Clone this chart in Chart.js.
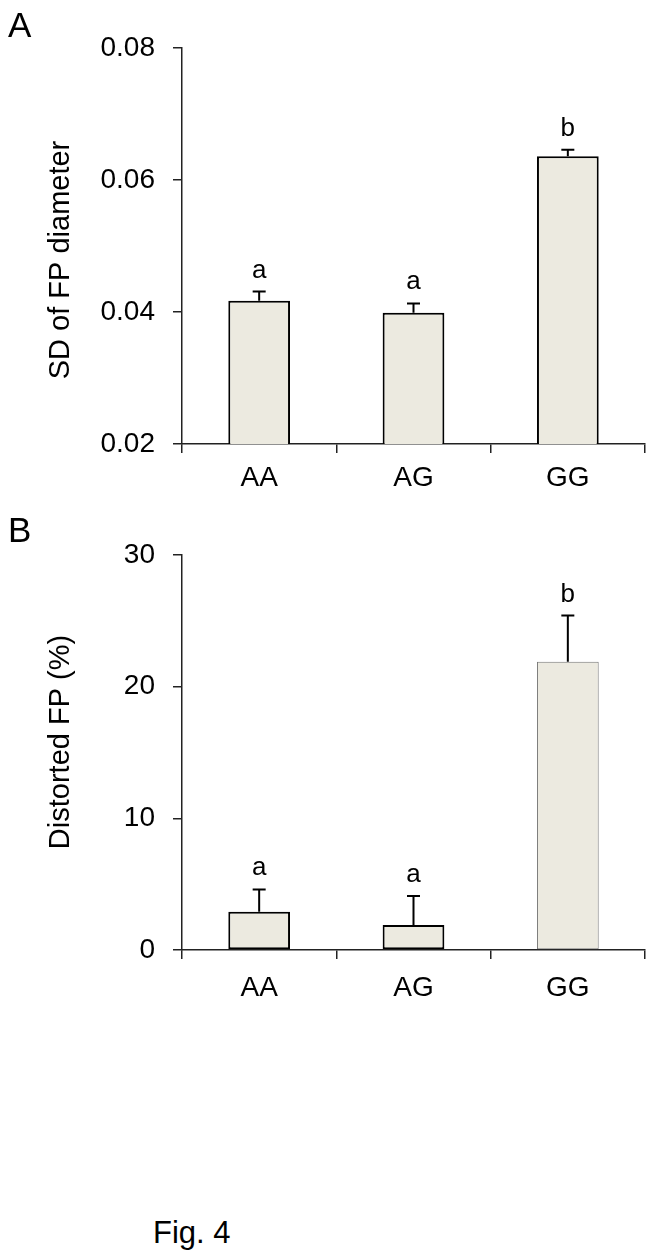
<!DOCTYPE html>
<html>
<head>
<meta charset="utf-8">
<script src="https://cdn.jsdelivr.net/npm/chart.js@4"></script>
<style>
  body { margin: 0; background: #fff; }
  #page { position: relative; width: 653px; height: 1257px; font-family: 'Liberation Sans', Arial, sans-serif; color: #000; }
  canvas { position: absolute; left: 0; }
  .tag { position: absolute; line-height: 1; }
</style>
</head>
<body>
<div id="page">
  <canvas id="chartA" style="top:0" width="653" height="500"></canvas>
  <canvas id="chartB" style="top:500px" width="653" height="520"></canvas>
  <div class="tag" style="left:8px;top:7px;font-size:35px">A</div>
  <div class="tag" style="left:8px;top:512px;font-size:35px">B</div>
  <div class="tag" style="left:153px;top:1217px;font-size:31px">Fig. 4</div>
</div>
<script>
// genotype groups
const groups = ['AA', 'AG', 'GG'];

// panel A: SD of FP diameter
const sdMean    = [0.0417, 0.0399, 0.0636];
const sdErr     = [0.0014, 0.0014, 0.0010];
const sdLetters = ['a', 'a', 'b'];
const sdTicks   = [0.02, 0.04, 0.06, 0.08];

// panel B: distorted FP (%)
const fpMean    = [2.9, 1.9, 21.9];
const fpErr     = [1.7, 2.2, 3.5];
const fpLetters = ['a', 'a', 'b'];
const fpTicks   = [0, 10, 20, 30];

const FONT = '"Liberation Sans", Arial, sans-serif';
const AXIS = '#222';
const FILL = '#ECEAE0';

// error bar (up only) + significance letter above it
const errorBars = {
  id: 'errorBars',
  afterDatasetsDraw(chart, args, opts) {
    const { ctx } = chart;
    const y = chart.scales.y;
    const meta = chart.getDatasetMeta(0);
    ctx.save();
    ctx.strokeStyle = '#000';
    ctx.fillStyle = '#000';
    ctx.lineWidth = 2;
    ctx.font = '26px ' + FONT;
    ctx.textAlign = 'center';
    ctx.textBaseline = 'alphabetic';
    meta.data.forEach((bar, i) => {
      const top = y.getPixelForValue(opts.mean[i] + opts.err[i]);
      ctx.beginPath();
      ctx.moveTo(bar.x, bar.y);
      ctx.lineTo(bar.x, top);
      ctx.moveTo(bar.x - 6.5, top);
      ctx.lineTo(bar.x + 6.5, top);
      ctx.stroke();
      ctx.fillText(opts.letters[i], bar.x, top - 14);
    });
    ctx.restore();
  }
};

// rotated y title, placed by hand like the original figure
const yTitle = {
  id: 'yTitle',
  afterDraw(chart, args, opts) {
    const { ctx } = chart;
    ctx.save();
    ctx.translate(opts.x, opts.y);
    ctx.rotate(-Math.PI / 2);
    ctx.font = '29px ' + FONT;
    ctx.fillStyle = '#000';
    ctx.textAlign = 'center';
    ctx.textBaseline = 'alphabetic';
    ctx.fillText(opts.text, 0, 0);
    ctx.restore();
  }
};

function makeChart(id, cfg) {
  return new Chart(document.getElementById(id), {
    type: 'bar',
    data: {
      labels: groups,
      datasets: [{
        data: cfg.mean,
        backgroundColor: FILL,
        borderColor: cfg.borderColor,
        borderWidth: cfg.borderWidth,
        borderSkipped: false,
        categoryPercentage: 1,
        barPercentage: 0.4
      }]
    },
    options: {
      responsive: false,
      animation: false,
      events: [],
      layout: { padding: { left: 0, right: 8, top: cfg.top, bottom: 0 } },
      plugins: {
        legend: { display: false },
        tooltip: { enabled: false },
        errorBars: { mean: cfg.mean, err: cfg.err, letters: cfg.letters },
        yTitle: { text: cfg.title, x: 69, y: cfg.titleY }
      },
      scales: {
        x: {
          grid: { drawOnChartArea: false, tickLength: 9, color: AXIS, lineWidth: 1.5 },
          border: { color: AXIS, width: 1.5 },
          ticks: { color: '#000', font: { family: FONT, size: 28 }, padding: cfg.xPad },
          afterFit: s => { s.height = cfg.xHeight; }
        },
        y: {
          min: cfg.ticks[0],
          max: cfg.ticks[cfg.ticks.length - 1],
          afterBuildTicks: s => { s.ticks = cfg.ticks.map(v => ({ value: v })); },
          grid: { drawOnChartArea: false, tickLength: 9, color: AXIS, lineWidth: 1.5 },
          border: { color: AXIS, width: 1.5 },
          ticks: { color: '#000', font: { family: FONT, size: 28 }, padding: 18, callback: cfg.fmt },
          afterFit: s => { s.width = 182; }
        }
      }
    },
    plugins: [errorBars, yTitle]
  });
}

makeChart('chartA', {
  mean: sdMean, err: sdErr, letters: sdLetters, ticks: sdTicks,
  fmt: v => v.toFixed(2),
  borderColor: '#000', borderWidth: 2,
  title: 'SD of FP diameter', titleY: 260,
  top: 48, xHeight: 56, xPad: 8
});

makeChart('chartB', {
  mean: fpMean, err: fpErr, letters: fpLetters, ticks: fpTicks,
  fmt: v => String(v),
  borderColor: ['#000', '#000', '#777'], borderWidth: [2, 2, 1],
  title: 'Distorted FP (%)', titleY: 242,
  top: 55, xHeight: 70, xPad: 12
});
</script>
</body>
</html>
